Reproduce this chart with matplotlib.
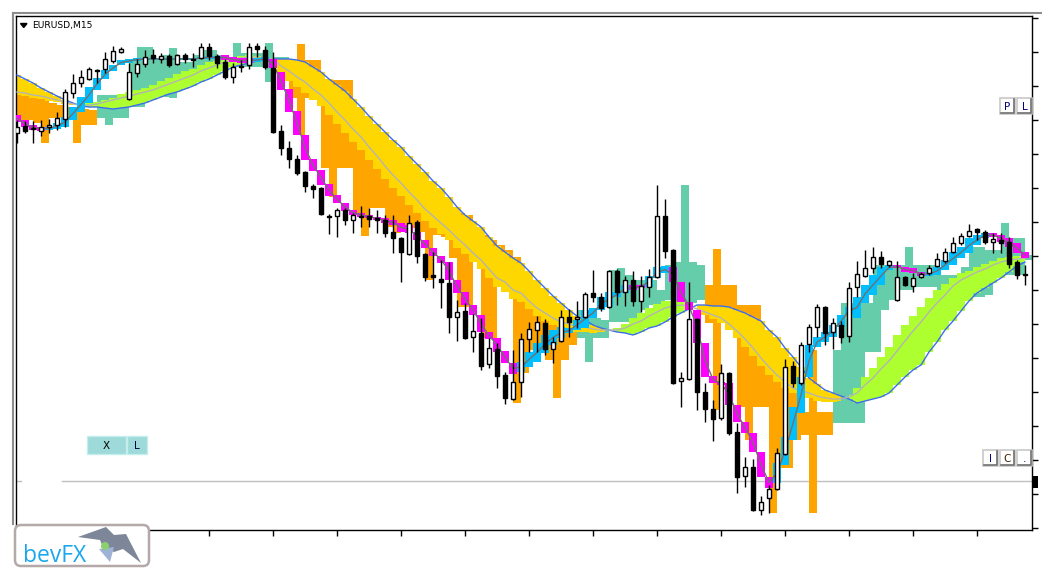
"""EURUSD M15 chart with candles, two MA ribbons and trend columns."""

import matplotlib

matplotlib.use("Agg")
import matplotlib.pyplot as plt
import numpy as np
from matplotlib.patches import Circle, FancyBboxPatch, Polygon, Rectangle


# quotes in points below the upper chart edge (axis runs downwards)
opens = [133, 126, 128, 131, 127, 125, 119, 93, 83, 79,
         70, 69, 61, 52, 99, 73, 64, 55, 59, 56,
         64, 55, 59, 58, 47, 56, 62, 77, 66, 65,
         46, 50, 68, 131, 148, 159, 172, 186, 188, 216,
         216, 210, 220, 216, 216, 218, 220, 232, 238, 254,
         222, 254, 275, 279, 283, 317, 311, 337, 333, 364,
         349, 375, 399, 382, 339, 330, 323, 349, 341, 317,
         319, 317, 293, 297, 307, 271, 292, 280, 301, 287,
         277, 216, 250, 381, 379, 319, 392, 409, 418, 373,
         432, 476, 467, 510, 498, 489, 454, 366, 383, 344,
         327, 307, 332, 325, 336, 287, 276, 268, 257, 265,
         300, 277, 286, 277, 273, 266, 261, 252, 243, 236,
         229, 232, 242, 240, 242, 262, 274]
highs = [120, 121, 121, 120, 119, 112, 89, 74, 70, 67,
         69, 52, 46, 47, 63, 59, 50, 49, 53, 54,
         54, 53, 53, 43, 43, 54, 59, 63, 60, 43,
         43, 46, 52, 125, 141, 155, 171, 184, 187, 214,
         208, 208, 213, 206, 208, 210, 215, 215, 237, 215,
         220, 253, 252, 260, 262, 300, 303, 314, 318, 338,
         343, 372, 350, 333, 322, 316, 319, 337, 310, 309,
         301, 292, 270, 293, 270, 269, 276, 271, 276, 269,
         185, 199, 249, 372, 282, 318, 383, 400, 364, 372,
         423, 457, 459, 496, 485, 448, 359, 361, 342, 324,
         304, 306, 318, 321, 282, 261, 250, 247, 251, 260,
         261, 276, 273, 272, 265, 253, 248, 237, 233, 224,
         228, 230, 233, 233, 237, 260, 265]
lows = [143, 133, 143, 136, 133, 130, 127, 98, 87, 80,
        83, 73, 63, 53, 100, 77, 67, 63, 63, 67,
        65, 63, 67, 59, 60, 68, 79, 83, 72, 69,
        57, 69, 133, 155, 168, 175, 192, 198, 215, 234,
        237, 225, 233, 227, 227, 233, 237, 253, 282, 255,
        263, 281, 288, 308, 333, 341, 339, 352, 370, 368,
        388, 404, 400, 397, 352, 352, 355, 363, 342, 337,
        328, 318, 302, 311, 308, 305, 306, 306, 312, 297,
        278, 258, 384, 407, 380, 410, 422, 441, 420, 435,
        493, 487, 511, 515, 513, 490, 455, 387, 385, 352,
        337, 345, 349, 343, 342, 297, 277, 273, 268, 267,
        301, 286, 292, 278, 275, 267, 263, 253, 245, 237,
        240, 244, 253, 253, 268, 279, 285]
closes = [127, 131, 129, 127, 125, 118, 92, 83, 77, 69,
          71, 59, 51, 49, 72, 64, 57, 58, 56, 65,
          55, 59, 60, 47, 56, 63, 77, 67, 67, 47,
          49, 67, 132, 148, 159, 173, 186, 189, 214, 217,
          210, 220, 215, 217, 219, 220, 233, 238, 252, 223,
          256, 277, 277, 282, 317, 312, 338, 331, 366, 348,
          376, 398, 382, 339, 329, 322, 349, 342, 317, 322,
          317, 294, 297, 308, 271, 292, 280, 301, 286, 277,
          216, 251, 383, 378, 319, 392, 409, 419, 373, 433,
          477, 467, 510, 502, 489, 453, 367, 383, 345, 327,
          307, 333, 323, 337, 288, 274, 268, 257, 264, 261,
          277, 285, 278, 274, 268, 259, 252, 243, 236, 231,
          232, 242, 239, 243, 264, 275, 274.5]

# slow band: blue MA, grey MA and the outer edge of the filled cloud
slow_blue = [75, 79, 83, 88, 92, 96, 100, 103, 106, 107,
             107, 108, 109, 108, 107, 105, 103, 100, 97, 94,
             92, 89, 86, 82, 79, 75, 71, 67, 65, 63,
             61, 60, 59, 59, 59, 60, 62, 67, 72, 79,
             85, 91, 99, 107, 116, 124, 132, 140, 147, 156,
             164, 172, 181, 188, 197, 207, 215, 221, 227, 237,
             246, 252, 258, 263, 271, 280, 288, 296, 303, 310,
             316, 320, 325, 328, 330, 332, 333, 335, 332, 328,
             326, 322, 317, 313, 309, 305, 305, 306, 306, 307,
             310, 313, 317, 321, 330, 337, 348, 357, 367, 378,
             384, 390, 393, 396, 399, 403, 401, 399, 397, 393,
             385, 377, 370, 365, 352, 342, 330, 321, 311, 301,
             293, 288, 283, 278, 272, 266, 262]
slow_gray = [92, 93, 95, 96, 98, 100, 102, 104, 105, 105,
             104, 102, 100, 98, 96, 94, 92, 90, 87, 84,
             81, 78, 75, 71, 68, 65, 62, 60, 58, 57,
             57, 58, 59, 66, 71, 77, 82, 89, 95, 103,
             112, 120, 129, 137, 147, 156, 166, 175, 183, 192,
             200, 209, 216, 223, 230, 238, 245, 253, 260, 269,
             278, 282, 290, 293, 301, 308, 313, 318, 322, 324,
             326, 327, 329, 330, 330, 330, 328, 324, 321, 316,
             312, 308, 306, 305, 306, 309, 312, 315, 318, 324,
             331, 339, 348, 358, 367, 375, 382, 388, 391, 393,
             396, 398, 399, 399, 397, 393, 385, 378, 369, 361,
             351, 341, 331, 322, 312, 303, 295, 286, 280, 276,
             272, 269, 265, 262, 260, 259, 258]
slow_edge = [95, 96, 98, 99, 101, 102, 104, 105, 103, 103,
             102, 100, 98, 94, 92, 90, 88, 85, 81, 78,
             74, 71, 69, 65, 62, 61, 59, 57, 56, 55,
             56, 58, 59, 72, 81, 87, 93, 100, 106, 115,
             124, 133, 142, 150, 160, 169, 179, 188, 196, 205,
             213, 221, 228, 234, 240, 248, 254, 262, 269, 278,
             287, 292, 299, 302, 309, 316, 321, 325, 329, 330,
             332, 332, 333, 332, 330, 328, 324, 318, 313, 308,
             304, 301, 301, 302, 305, 311, 315, 319, 323, 330,
             338, 347, 356, 366, 375, 382, 388, 393, 396, 398,
             401, 402, 402, 401, 395, 388, 377, 368, 357, 347,
             335, 325, 316, 307, 298, 290, 284, 278, 273, 271,
             267, 264, 261, 258, 257, 256, 255]

# fast ribbon: upper and lower edge per bar, colour runs (m = falling, c = rising)
fast_hi = [115, 120, 125, 127, 127, 123, 117, 107, 97, 87,
           78, 70, 65, 60, 59, 58, 58, 58, 58, 58,
           58, 58, 58, 57, 56, 56, 55, 57, 58, 58,
           58, 57, 59, 72, 89, 111, 135, 159, 170, 184,
           195, 203, 210, 213, 215, 217, 218, 220, 223, 225,
           232, 240, 248, 256, 262, 280, 292, 305, 315, 332,
           338, 351, 363, 362, 352, 343, 335, 330, 327, 328,
           320, 310, 308, 297, 292, 292, 285, 285, 285, 276,
           267, 266, 267, 282, 302, 310, 343, 376, 382, 383,
           405, 422, 433, 452, 477, 463, 437, 407, 377, 345,
           337, 332, 325, 315, 307, 297, 285, 275, 267, 265,
           265, 267, 268, 272, 272, 267, 260, 252, 247, 238,
           235, 233, 233, 235, 238, 243, 252]
fast_lo = [122, 127, 130, 131, 130, 129, 127, 120, 112, 103,
           90, 79, 71, 65, 63, 61, 60, 60, 60, 60,
           60, 60, 60, 59, 59, 59, 60, 62, 63, 63,
           62, 61, 68, 90, 112, 135, 160, 171, 185, 196,
           203, 211, 215, 217, 218, 220, 223, 225, 232, 233,
           240, 248, 256, 263, 280, 293, 305, 315, 332, 339,
           352, 363, 374, 372, 367, 362, 353, 345, 338, 333,
           330, 328, 318, 310, 307, 297, 293, 290, 288, 287,
           278, 273, 282, 302, 310, 343, 377, 383, 385, 405,
           422, 433, 452, 477, 488, 483, 465, 440, 413, 377,
           347, 342, 337, 327, 315, 318, 303, 295, 285, 270,
           268, 272, 273, 276, 276, 275, 270, 265, 258, 253,
           245, 238, 237, 242, 247, 253, 258]
fast_runs = [("m", 4), ("c", 22), ("m", 4), ("c", 2), ("m", 31), ("c", 14),
             ("m", 2), ("c", 3), ("m", 13), ("c", 15), ("m", 4), ("c", 8), ("m", 5)]

# trend columns: top, bottom, colour runs (o = bearish, a = bullish)
col_top = [95, 95, 97, 98, 103, 105, 107, 108, 109, 110,
           95, 95, 95, 95, 60, 47, 47, 60, 55, 48,
           62, 62, 55, 50, 50, 55, 60, 43, 53, 53,
           53, 43, 57, 57, 72, 44, 60, 60, 80, 80,
           80, 80, 120, 120, 133, 133, 140, 150, 160, 168,
           178, 188, 197, 205, 213, 213, 215, 230, 235, 240,
           245, 250, 257, 273, 280, 290, 300, 305, 310, 318,
           310, 315, 318, 320, 270, 268, 275, 280, 280, 280,
           290, 265, 262, 185, 262, 265, 285, 249, 285, 285,
           305, 305, 305, 330, 357, 357, 360, 380, 412, 350,
           412, 412, 350, 303, 303, 303, 303, 265, 265, 265,
           265, 247, 265, 265, 265, 275, 275, 275, 267, 247,
           247, 250, 250, 223, 238, 238, 255]
col_bot = [120, 120, 123, 143, 118, 118, 118, 143, 125, 125,
           118, 125, 118, 118, 107, 107, 97, 97, 97, 98,
           90, 75, 73, 73, 73, 70, 67, 67, 67, 67,
           67, 82, 63, 63, 98, 135, 98, 98, 168, 197,
           168, 168, 215, 236, 208, 208, 227, 233, 225, 228,
           232, 280, 235, 237, 258, 307, 307, 258, 338, 338,
           277, 277, 403, 373, 350, 350, 360, 398, 360, 345,
           338, 362, 338, 338, 322, 322, 322, 320, 310, 305,
           305, 300, 303, 303, 303, 300, 323, 410, 323, 323,
           407, 440, 407, 407, 513, 468, 468, 440, 435, 513,
           435, 435, 423, 423, 423, 423, 352, 352, 310, 300,
           290, 290, 287, 287, 287, 303, 303, 303, 297, 297,
           297, 295, 275, 275, 275, 275, 260]
col_runs = [("o", 10), ("a", 24), ("o", 36), ("a", 16), ("o", 16), ("a", 25)]

level_line = 481
right_ticks = [528, 494, 460, 426, 392, 358, 324, 290, 256, 222, 188, 154, 120, 86, 52, 18]


def expand(runs):
    return [k for k, n in runs for _ in range(n)]


def button(ax, x0, y0, w, h, label, color="#000080"):
    ax.add_patch(Rectangle((x0, y0), w, h, facecolor="white", edgecolor="#c8c8c8", lw=1.2))
    ax.plot([x0 + 1, x0 + w - 1, x0 + w - 1], [y0 + h - 1, y0 + h - 1, y0 + 1], color="#707070", lw=1.2)
    ax.text(x0 + w / 2, y0 + h / 2 + 0.5, label, ha="center", va="center", fontsize=7.5, color=color)


o, h, l, c = (np.array(a, dtype=float) for a in (opens, highs, lows, closes))
x = np.arange(len(o))
blue = np.array(slow_blue, dtype=float)
gray = np.array(slow_gray, dtype=float)
edge = np.array(slow_edge, dtype=float)
fhi = np.array(fast_hi, dtype=float)
flo = np.array(fast_lo, dtype=float)
ctop = np.array(col_top, dtype=float)
cbot = np.array(col_bot, dtype=float)
fast_kind = expand(fast_runs)
col_kind = expand(col_runs)
assert len(fast_kind) == len(col_kind) == len(x) == len(edge)

fig = plt.figure(figsize=(10.42, 5.80), dpi=100)
ax = fig.add_axes([16 / 1042, 50.5 / 580, 1016 / 1042, 513.5 / 580])
ax.set_xlim(-0.125, 126.875)
ax.set_ylim(529.5, 16)

ax.axhline(level_line, xmin=0, xmax=0.005, color="#c0c0c0", lw=1, zorder=0.5)
ax.axhline(level_line, xmin=0.045, xmax=1, color="#c0c0c0", lw=1, zorder=0.5)

# trend columns
col_colors = {"o": "#ffa500", "a": "#66cdaa"}
ax.bar(x, cbot - ctop, bottom=ctop, width=1.0, align="edge",
       color=[col_colors[k] for k in col_kind], linewidth=0, zorder=1)

# slow band: yellow while grey MA is under blue, green while above
ax.fill_between(x, blue, edge, where=gray >= blue, step="mid", color="#ffd700", lw=0, zorder=2)
ax.fill_between(x, blue, edge, where=gray <= blue, step="mid", color="#adff2f", lw=0, zorder=2)
ax.plot(x, blue, color="#3c6cf0", lw=1, zorder=3)
ax.plot(x, gray, color="#b4b4b4", lw=1, zorder=3)

# fast ribbon
fast_colors = {"m": "#ff00ff", "c": "#00bfff"}
ax.bar(x, flo - fhi, bottom=fhi, width=1.0, color=[fast_colors[k] for k in fast_kind],
       linewidth=0, zorder=4)
ax.plot(x, (fhi + flo) / 2, color="#707070", lw=1, zorder=5)

# candles
bull = c <= o
ax.vlines(x, h, l, color="black", lw=1, zorder=6)
body = np.maximum(np.abs(c - o), 1.0)
ax.bar(x, body, bottom=np.minimum(o, c), width=0.55,
       color=np.where(bull, "white", "black"), edgecolor="black", linewidth=1, zorder=7)

for side in ("left", "right", "top", "bottom"):
    ax.spines[side].set_color("black")
    ax.spines[side].set_linewidth(1)
ax.yaxis.tick_right()
ax.set_yticks(right_ticks)
ax.set_xticks(np.arange(0, 127, 8))
ax.tick_params(axis="y", direction="out", length=4, width=1, labelright=False, labelleft=False)
ax.tick_params(axis="x", direction="out", length=4, width=1, labelbottom=False)

# terminal chrome on a pixel overlay
ov = fig.add_axes([0, 0, 1, 1], zorder=10)
ov.set_xlim(0, 1042)
ov.set_ylim(580, 0)
ov.axis("off")

ov.plot([13, 1042], [13, 13], color="#8c8c8c", lw=1.5)
ov.plot([13, 13], [13, 524], color="#8c8c8c", lw=1.5)

ov.add_patch(Polygon([[20.5, 23.5], [27, 23.5], [23.75, 27.5]], closed=True, color="black"))
ov.text(32, 25.5, "EURUSD,M15", fontsize=6.6, ha="left", va="center", color="black")

ov.add_patch(Rectangle((87, 435.5), 39, 18.5, facecolor="#9edada", edgecolor="#c4eeee", lw=1))
ov.add_patch(Rectangle((127, 435.5), 20, 18.5, facecolor="#9edada", edgecolor="#c4eeee", lw=1))
ov.text(106.5, 446, "X", fontsize=7.5, ha="center", va="center", color="black")
ov.text(137, 446, "L", fontsize=7.5, ha="center", va="center", color="#000040")

button(ov, 1000, 98, 15, 16, "P")
button(ov, 1017, 98, 15, 16, "L")
button(ov, 983, 450, 15, 16, "I")
button(ov, 1000, 450, 15, 16, "C", color="#402000")
button(ov, 1017, 450, 15, 16, ".")

ov.add_patch(Rectangle((1033, 475.5), 5, 12, facecolor="black", lw=0))

ov.add_patch(FancyBboxPatch((15, 525), 134, 41, boxstyle="round,pad=0,rounding_size=6",
                            facecolor="white", edgecolor="#b4a8a8", lw=1.8))
ov.text(23, 562, "bevFX", fontsize=16.5, ha="left", va="baseline", color="#1aa7ee",
        family="Open Sans")
ov.add_patch(Polygon([[78, 537], [106, 527], [114, 535], [126, 534], [141, 563],
                      [123, 549], [114, 552], [103, 547], [100, 540]],
                     closed=True, facecolor="#7d8799", lw=0))
ov.add_patch(Polygon([[99, 549], [114, 547], [110, 562]], closed=True, facecolor="#9eb3d6", lw=0))
ov.add_patch(Circle((105, 546), 4, facecolor="#8ccf6e", lw=0))

fig.savefig("out.png", dpi=100)
